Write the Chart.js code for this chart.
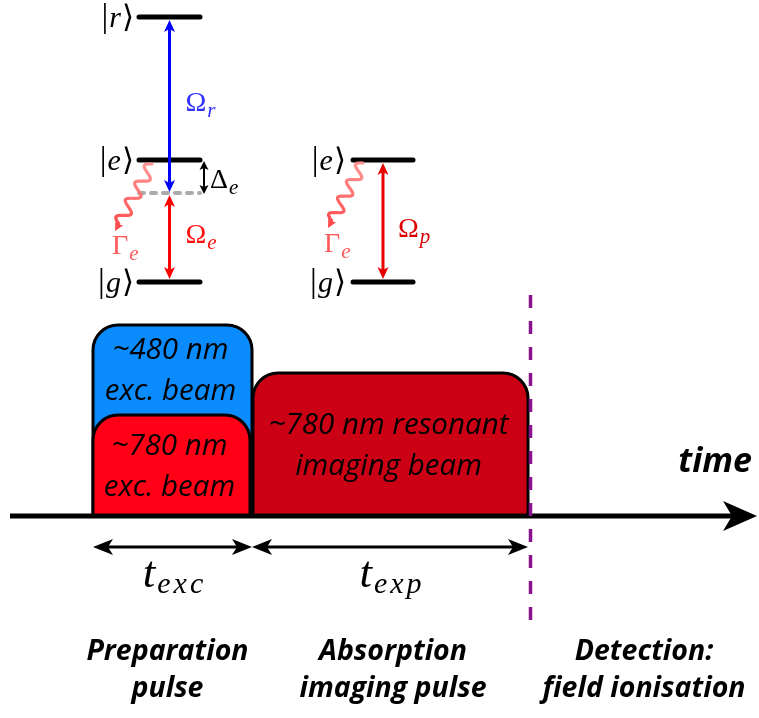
<!DOCTYPE html>
<html>
<head>
<meta charset="utf-8">
<script src="https://cdn.jsdelivr.net/npm/chart.js@4/dist/chart.umd.min.js"></script>
<style>
  html, body { margin: 0; padding: 0; background: #fff; }
  canvas { display: block; }
</style>
</head>
<body>
<canvas id="seq" width="759" height="718" style="width:759px;height:718px"></canvas>
<script>
// ---------- pulse sequence (arbitrary time units, 0 = start of excitation) ----------
const pulseLines = [['~480 nm', 'exc. beam'], ['~780 nm', 'exc. beam'], ['~780 nm resonant', 'imaging beam']];
const pulseStart = [0, 0, 160];
const pulseEnd = [159, 157, 435];
const pulseAmplitude = [191, 101, 143];
const excWindow = [0, 159];          // t_exc
const expWindow = [159, 435];        // t_exp
const detectionTime = 437.5;
const timeAxisRange = [-83, 664];
const phaseNames = [['Preparation', 'pulse'], ['Absorption', 'imaging pulse'], ['Detection:', 'field ionisation']];
const phaseCentres = [74.5, 300, 551];

// ---------- level schemes (arbitrary energy units, same frame) ----------
const ladderStates = ['r', 'e', 'g'];
const ladderEnergy = [499, 356, 234];
const ladderVirtual = 323;           // detuned intermediate level
const ladderSpan = [46, 107];
const probeStates = ['e', 'g'];
const probeEnergy = [356, 234];
const probeSpan = [260, 320];

// ---------- styling ----------
const pulseFill = ['#0a8cff', '#ff0016', '#cc0014'];
const SERIF = '"Liberation Serif", "DejaVu Serif", "DejaVu Sans", serif';
const SANS = '"Open Sans", Lato, "Liberation Sans", sans-serif';

function segment(x0, x1, y0, y1, style) {
  return Object.assign({
    data: [{ x: x0, y: y0 }, { x: x1, y: y1 }],
    showLine: true, pointRadius: 0, pointHoverRadius: 0, fill: false,
    tension: 0, clip: false
  }, style);
}

const levelStyle = { borderColor: '#000', borderWidth: 5, borderCapStyle: 'round' };

const datasets = [
  // detection marker (drawn on top of the axis)
  segment(detectionTime, detectionTime, 221, -114,
    { borderColor: '#8a128a', borderWidth: 3.5, borderDash: [13, 13], borderCapStyle: 'butt' }),
  // time axis shaft
  segment(timeAxisRange[0], timeAxisRange[1] - 24, 0, 0,
    { borderColor: '#000', borderWidth: 5, borderCapStyle: 'butt' }),
  // virtual level
  segment(ladderSpan[0], ladderSpan[1], ladderVirtual, ladderVirtual,
    { borderColor: '#ababab', borderWidth: 4, borderDash: [5, 7], borderCapStyle: 'round' })
];
ladderEnergy.forEach(E => datasets.push(segment(ladderSpan[0], ladderSpan[1], E, E, levelStyle)));
probeEnergy.forEach(E => datasets.push(segment(probeSpan[0], probeSpan[1], E, E, levelStyle)));

// ---------- drawing helpers ----------
function head(ctx, tx, ty, dx, dy, len, half, inset) {
  ctx.beginPath();
  ctx.moveTo(tx, ty);
  ctx.lineTo(tx - dx * len - dy * half, ty - dy * len + dx * half);
  ctx.lineTo(tx - dx * (len - inset), ty - dy * (len - inset));
  ctx.lineTo(tx - dx * len + dy * half, ty - dy * len - dx * half);
  ctx.closePath();
  ctx.fill();
}

function arrow(ctx, x0, y0, x1, y1, o) {
  const L = Math.hypot(x1 - x0, y1 - y0);
  const dx = (x1 - x0) / L, dy = (y1 - y0) / L;
  const back = o.len - o.inset;
  const sx = o.both ? x0 + dx * back : x0, sy = o.both ? y0 + dy * back : y0;
  ctx.save();
  ctx.strokeStyle = o.color; ctx.fillStyle = o.color; ctx.lineWidth = o.width;
  ctx.lineCap = 'butt';
  ctx.beginPath();
  ctx.moveTo(sx, sy);
  ctx.lineTo(x1 - dx * back, y1 - dy * back);
  ctx.stroke();
  head(ctx, x1, y1, dx, dy, o.len, o.half, o.inset);
  if (o.both) head(ctx, x0, y0, -dx, -dy, o.len, o.half, o.inset);
  ctx.restore();
}

function wave(ctx, x0, y0, x1, y1) {
  const L = Math.hypot(x1 - x0, y1 - y0);
  const dx = (x1 - x0) / L, dy = (y1 - y0) / L;
  const nx = -dy, ny = dx;
  const waveLen = L - 8;
  const periods = 3.5, amp = 6;
  const g = ctx.createLinearGradient(x0, y0, x1, y1);
  g.addColorStop(0, 'rgba(255,140,140,0.9)');
  g.addColorStop(1, 'rgba(255,70,70,1)');
  ctx.save();
  ctx.strokeStyle = g; ctx.fillStyle = 'rgba(255,75,75,1)';
  ctx.lineWidth = 3.2; ctx.lineJoin = 'round'; ctx.lineCap = 'round';
  ctx.beginPath();
  for (let i = 0; i <= 140; i++) {
    const s = i / 140 * waveLen;
    const a = amp * Math.sin(2 * Math.PI * periods * s / waveLen);
    const px = x0 + dx * s + nx * a, py = y0 + dy * s + ny * a;
    if (i === 0) ctx.moveTo(px, py); else ctx.lineTo(px, py);
  }
  ctx.stroke();
  head(ctx, x1, y1, dx, dy, 9, 4.5, 2);
  ctx.restore();
}

// sequential text pieces: [text, font, dy, gapAfter, letterSpacing]
function rich(ctx, pieces, x, y, color, align) {
  ctx.save();
  ctx.fillStyle = color;
  ctx.textBaseline = 'alphabetic';
  ctx.textAlign = 'left';
  const width = p => { ctx.font = p[1]; ctx.letterSpacing = p[4] || '0px'; return ctx.measureText(p[0]).width + (p[3] || 0); };
  let total = 0;
  pieces.forEach(p => { total += width(p); });
  let cx = align === 'right' ? x - total : align === 'center' ? x - total / 2 : x;
  pieces.forEach(p => {
    const w = width(p);
    ctx.fillText(p[0], cx, y + (p[2] || 0));
    cx += w;
  });
  ctx.restore();
}

function ket(ctx, letter, xRight, yMid) {
  rich(ctx, [
    ['|', '34px ' + SERIF, 0, 1],
    [letter, 'italic 30px ' + SERIF, 0, 1],
    ['\u27E9', '31px ' + SERIF, 0]
  ], xRight, yMid + 10, '#000', 'right');
}

function sub(ctx, main, s, x, y, color, mainSize, subSize, drop) {
  rich(ctx, [
    [main, mainSize + 'px ' + SERIF, 0, 1],
    [s, 'italic ' + subSize + 'px ' + SERIF, drop]
  ], x, y, color, 'left');
}

function roundedPulse(ctx, l, r, t, b, rad, fill) {
  ctx.beginPath();
  ctx.moveTo(l, b);
  ctx.lineTo(l, t + rad);
  ctx.arcTo(l, t, l + rad, t, rad);
  ctx.lineTo(r - rad, t);
  ctx.arcTo(r, t, r, t + rad, rad);
  ctx.lineTo(r, b);
  ctx.closePath();
  ctx.fillStyle = fill;
  ctx.fill();
  ctx.lineWidth = 3;
  ctx.strokeStyle = '#000';
  ctx.stroke();
}

const schematic = {
  id: 'schematic',
  beforeDatasetsDraw(chart) {
    const ctx = chart.ctx, X = chart.scales.x, Y = chart.scales.y;
    const y0 = Y.getPixelForValue(0);
    pulseStart.forEach((s, i) => {
      roundedPulse(ctx, X.getPixelForValue(s), X.getPixelForValue(pulseEnd[i]),
        Y.getPixelForValue(pulseAmplitude[i]), y0, 25, pulseFill[i]);
    });
  },
  afterDatasetsDraw(chart) {
    const ctx = chart.ctx, X = chart.scales.x, Y = chart.scales.y;
    const px = v => X.getPixelForValue(v), py = v => Y.getPixelForValue(v);
    const y0 = py(0);

    // time axis arrowhead and label
    ctx.save(); ctx.fillStyle = '#000';
    head(ctx, px(timeAxisRange[1]), y0, 1, 0, 34, 15, 9);
    ctx.restore();
    rich(ctx, [['time', 'italic 700 34px ' + SANS]], px(timeAxisRange[1]) - 5, y0 - 44, '#000', 'right');

    // text inside the pulses (centred in the visible part of each box)
    const visibleTop = pulseAmplitude.map(a => py(a));
    const visibleBottom = [py(pulseAmplitude[1]), y0, y0];
    pulseLines.forEach((lines, i) => {
      const cx = (px(pulseStart[i]) + px(pulseEnd[i])) / 2 - 2;
      const cy = (visibleTop[i] + visibleBottom[i]) / 2;
      ctx.save();
      ctx.fillStyle = '#000'; ctx.textAlign = 'center'; ctx.textBaseline = 'alphabetic';
      ctx.font = 'italic 29.5px ' + SANS;
      ctx.fillText(lines[0], cx, cy - 11);
      ctx.fillText(lines[1], cx, cy + 30);
      ctx.restore();
    });

    // duration arrows below the axis
    const ya = py(-31);
    const dOpt = { color: '#000', width: 3, len: 20, half: 8, inset: 5, both: true };
    arrow(ctx, px(excWindow[0]), ya, px(excWindow[1]), ya, dOpt);
    arrow(ctx, px(expWindow[0]), ya, px(expWindow[1]), ya, dOpt);
    const tLabel = (s, w) => {
      const c = (px(w[0]) + px(w[1])) / 2;
      rich(ctx, [['t', 'italic 45px ' + SERIF, 0, 2], [s, 'italic 30px ' + SERIF, 6, 0, '3px']], c + 2, ya + 40, '#000', 'center');
    };
    tLabel('exc', excWindow);
    tLabel('exp', expWindow);

    // phase captions
    phaseNames.forEach((lines, i) => {
      ctx.save();
      ctx.fillStyle = '#000'; ctx.textAlign = 'center';
      ctx.font = 'italic 700 28.5px ' + SANS;
      ctx.fillText(lines[0], px(phaseCentres[i]), py(-144));
      ctx.fillText(lines[1], px(phaseCentres[i]), py(-181));
      ctx.restore();
    });

    // ---- ladder scheme ----
    const lL = px(ladderSpan[0]), lR = px(ladderSpan[1]);
    const lM = (lL + lR) / 2;
    const yr = py(ladderEnergy[0]), ye = py(ladderEnergy[1]), yg = py(ladderEnergy[2]);
    const yv = py(ladderVirtual);
    const lvOpt = { width: 3, len: 12, half: 5.5, inset: 3, both: true };
    arrow(ctx, lM, yr + 3, lM, yv - 1, Object.assign({ color: '#0000ff' }, lvOpt));
    arrow(ctx, lM, yv + 2, lM, yg - 3, Object.assign({ color: '#ff0000' }, lvOpt));
    arrow(ctx, lR + 4, ye + 1, lR + 4, yv + 1, { color: '#000', width: 2, len: 9, half: 4.5, inset: 2, both: true });
    wave(ctx, lL + 13, ye + 4, lL - 24, ye + 71);

    ladderStates.forEach((s, i) => ket(ctx, s, lL - 5, py(ladderEnergy[i])));
    sub(ctx, '\u03A9', 'r', lM + 16, (yr + yv) / 2 + 6, '#3030ff', 28, 21, 6);
    sub(ctx, '\u03A9', 'e', lM + 16, (yv + yg) / 2 + 5, '#ff1010', 28, 21, 6);
    sub(ctx, '\u0394', 'e', lR + 10, yv - 5, '#000', 28, 21, 6);
    sub(ctx, '\u0393', 'e', lL - 27, ye + 94, '#ff5a5a', 28, 21, 6);

    // ---- probe scheme ----
    const pL = px(probeSpan[0]), pR = px(probeSpan[1]);
    const pM = (pL + pR) / 2;
    const pe = py(probeEnergy[0]), pg = py(probeEnergy[1]);
    arrow(ctx, pM, pe + 3, pM, pg - 3, Object.assign({ color: '#e60000' }, lvOpt));
    wave(ctx, pL + 10, pe + 3, pL - 25, pe + 68);
    probeStates.forEach((s, i) => ket(ctx, s, pL - 7, py(probeEnergy[i])));
    sub(ctx, '\u03A9', 'p', pM + 15, (pe + pg) / 2 + 16, '#dd0000', 28, 21, 6);
    sub(ctx, '\u0393', 'e', pL - 29, pe + 92, '#ff5a5a', 28, 21, 6);
  }
};

const chart = new Chart(document.getElementById('seq'), {
  type: 'scatter',
  data: { datasets },
  options: {
    responsive: false,
    devicePixelRatio: 1,
    animation: false,
    events: [],
    layout: { padding: 0 },
    plugins: { legend: { display: false }, tooltip: { enabled: false } },
    scales: {
      x: { type: 'linear', display: false, min: -93, max: 666 },
      y: { type: 'linear', display: false, min: -202, max: 516 }
    }
  },
  plugins: [schematic]
});
</script>
</body>
</html>
